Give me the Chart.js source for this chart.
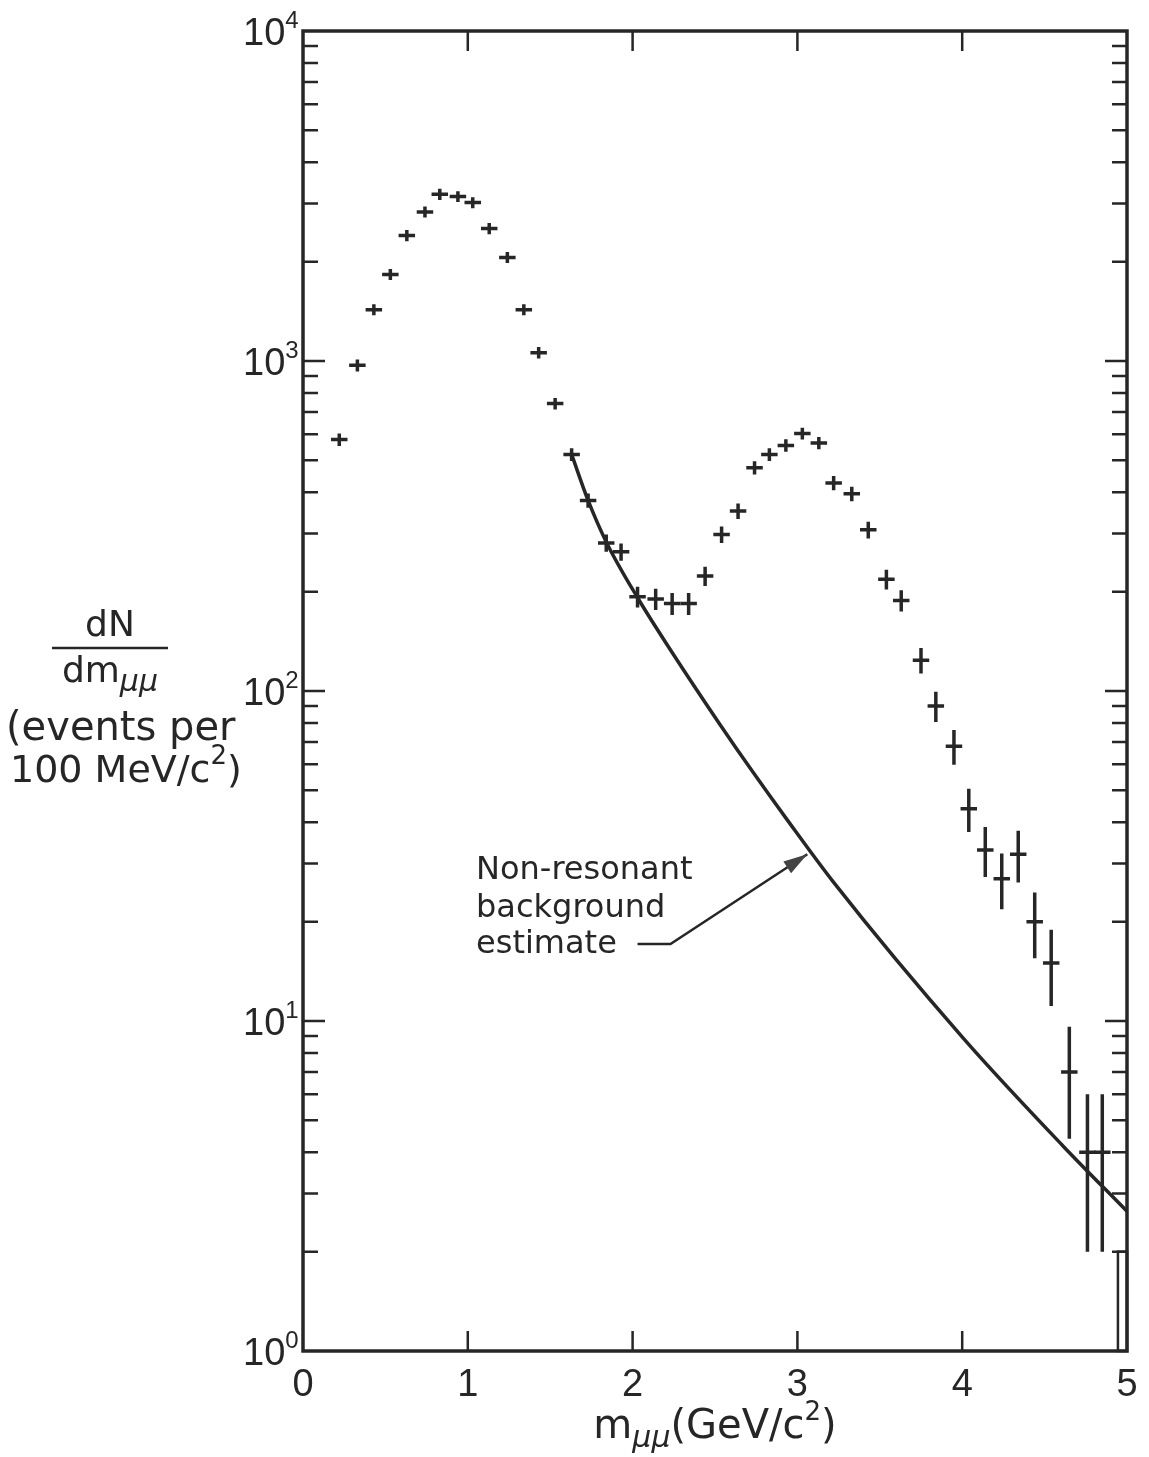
<!DOCTYPE html>
<html lang="en">
<head>
<meta charset="utf-8">
<title>Dimuon mass spectrum</title>
<script src="https://cdn.jsdelivr.net/npm/chart.js"></script>
<style>
  html, body { margin: 0; padding: 0; background: #fff; }
</style>
</head>
<body>
<canvas id="grafico" width="1149" height="1457"></canvas>

<script>
  // mass bins (GeV/c^2) and counts
  const massBins = [0.22, 0.33, 0.43, 0.53, 0.63, 0.74, 0.83, 0.94, 1.03, 1.13,
    1.24, 1.34, 1.43, 1.53, 1.63, 1.73, 1.84, 1.93, 2.03, 2.14,
    2.24, 2.34, 2.44, 2.54, 2.64, 2.74, 2.83, 2.93, 3.03, 3.13,
    3.22, 3.33, 3.43, 3.54, 3.63, 3.75, 3.84, 3.95, 4.04, 4.14,
    4.24, 4.34, 4.44, 4.54, 4.65, 4.76, 4.85];
  const eventCounts = [578, 970, 1430, 1830, 2400, 2830, 3200, 3150, 3020, 2520,
    2060, 1430, 1060, 743, 521, 378, 281, 264, 193, 190,
    184, 184, 223, 298, 351, 475, 521, 555, 603, 564,
    427, 396, 308, 218, 188, 124, 90, 68, 44, 33,
    27, 32, 20, 15, 7, 4, 4];
  const countErrors = [25, 40, 55, 70, 95, 110, 125, 120, 115, 100,
    80, 55, 42, 30, 23, 19, 17, 16, 14, 14,
    14, 14, 15, 17, 19, 22, 23, 24, 25, 24,
    21, 20, 18, 15, 14, 11, 9.5, 8.2, 6.6, 5.7,
    5.2, 5.7, 4.5, 3.9, 2.6, 2, 2];
  const binHalfWidth = 0.05;

  // non-resonant background estimate (solid curve)
  const bgMass = [1.63, 1.73, 1.84, 2.035, 2.235, 2.53, 2.73, 2.935, 3.22, 4.01, 4.61, 5.0];
  const bgCounts = [521, 378, 283, 190, 132, 79.2, 56.8, 40.9, 26.3, 8.83, 4.19, 2.65];

  // last bin, drawn as an open box
  const limitBin = [4.945, 5.0];
  const limitCount = [2];

  // axes
  const xTicks = [0, 1, 2, 3, 4, 5];
  const yDecades = [1, 10, 100, 1000, 10000];
  const yExponents = ['0', '1', '2', '3', '4'];

  const ink = '#262626';
  const wordFont = '"DejaVu Sans", "Liberation Sans", sans-serif';
  const digitFont = '"Liberation Sans", "DejaVu Sans", sans-serif';

  // pieces of text drawn one after another, each with its own size and shift
  function drawPieces(ctx, pieces, x, baseline, align) {
    let total = 0;
    pieces.forEach(function (p) {
      ctx.font = p.font;
      p.w = ctx.measureText(p.t).width;
      total += p.w;
    });
    let cx = align === 'center' ? x - total / 2 : x;
    ctx.textAlign = 'left';
    ctx.textBaseline = 'alphabetic';
    pieces.forEach(function (p) {
      ctx.font = p.font;
      ctx.fillText(p.t, cx, baseline + (p.dy || 0));
      cx += p.w;
    });
  }

  const desenho = {
    id: 'desenho',
    afterDatasetsDraw(chart) {
      const ctx = chart.ctx;
      const a = chart.chartArea;
      const x = chart.scales.x;
      const y = chart.scales.y;
      const meta = chart.getDatasetMeta(0);

      ctx.save();
      ctx.strokeStyle = ink;
      ctx.lineWidth = 3.5;

      // crosses: bin width horizontally, error vertically
      for (let i = 0; i < massBins.length; i++) {
        const pt = meta.data[i];
        const x0 = x.getPixelForValue(massBins[i] - binHalfWidth);
        const x1 = x.getPixelForValue(massBins[i] + binHalfWidth);
        const yTop = y.getPixelForValue(eventCounts[i] + countErrors[i]);
        const yBot = y.getPixelForValue(eventCounts[i] - countErrors[i]);
        ctx.beginPath();
        ctx.moveTo(x0, pt.y);
        ctx.lineTo(x1, pt.y);
        ctx.moveTo(pt.x, yTop);
        ctx.lineTo(pt.x, yBot);
        ctx.stroke();
      }

      // last open box
      ctx.lineWidth = 2.5;
      const bx0 = x.getPixelForValue(limitBin[0]);
      const bx1 = x.getPixelForValue(limitBin[1]);
      const by = y.getPixelForValue(limitCount[0]);
      ctx.strokeRect(bx0, by, bx1 - bx0, a.bottom - by);

      // annotation with arrow to the curve
      const tipX = x.getPixelForValue(3.06);
      const tipY = y.getPixelForValue(32);
      const l0x = x.getPixelForValue(2.03);
      const l1x = x.getPixelForValue(2.23);
      const lY = y.getPixelForValue(17.1);
      ctx.lineWidth = 2.5;
      ctx.beginPath();
      ctx.moveTo(l0x, lY);
      ctx.lineTo(l1x, lY);
      ctx.lineTo(tipX, tipY);
      ctx.stroke();
      const ang = Math.atan2(tipY - lY, tipX - l1x);
      ctx.fillStyle = '#444';
      ctx.beginPath();
      ctx.moveTo(tipX, tipY);
      ctx.lineTo(tipX - 24 * Math.cos(ang) + 7 * Math.sin(ang), tipY - 24 * Math.sin(ang) - 7 * Math.cos(ang));
      ctx.lineTo(tipX - 24 * Math.cos(ang) - 7 * Math.sin(ang), tipY - 24 * Math.sin(ang) + 7 * Math.cos(ang));
      ctx.closePath();
      ctx.fill();

      ctx.fillStyle = ink;
      ctx.font = '32px ' + wordFont;
      ctx.textAlign = 'left';
      ctx.textBaseline = 'alphabetic';
      const noteX = x.getPixelForValue(1.05);
      const noteY = y.getPixelForValue(26.9);
      ctx.fillText('Non-resonant', noteX, noteY);
      ctx.fillText('background', noteX, noteY + 38);
      ctx.fillText('estimate', noteX, noteY + 74);

      ctx.restore();
    },
    afterDraw(chart) {
      const ctx = chart.ctx;
      const a = chart.chartArea;
      const x = chart.scales.x;
      const y = chart.scales.y;

      ctx.save();
      ctx.strokeStyle = ink;
      ctx.fillStyle = ink;

      // frame
      ctx.lineWidth = 3.5;
      ctx.strokeRect(a.left, a.top, a.right - a.left, a.bottom - a.top);

      // inward ticks, x
      ctx.lineWidth = 2.5;
      ctx.beginPath();
      xTicks.slice(1, -1).forEach(function (v) {
        const px = x.getPixelForValue(v);
        ctx.moveTo(px, a.bottom);
        ctx.lineTo(px, a.bottom - 20);
        ctx.moveTo(px, a.top);
        ctx.lineTo(px, a.top + 20);
      });
      // inward ticks, y (decades and 2..9)
      yDecades.forEach(function (d, k) {
        if (k > 0 && k < yDecades.length - 1) {
          const py = y.getPixelForValue(d);
          ctx.moveTo(a.left, py);
          ctx.lineTo(a.left + 22, py);
          ctx.moveTo(a.right, py);
          ctx.lineTo(a.right - 22, py);
        }
        if (k < yDecades.length - 1) {
          for (let m = 2; m <= 9; m++) {
            const py = y.getPixelForValue(d * m);
            ctx.moveTo(a.left, py);
            ctx.lineTo(a.left + 15, py);
            ctx.moveTo(a.right, py);
            ctx.lineTo(a.right - 15, py);
          }
        }
      });
      ctx.stroke();

      // y labels 10^n
      yDecades.forEach(function (d, k) {
        const py = y.getPixelForValue(d);
        drawPieces(ctx, [
          { t: '10', font: '38px ' + digitFont },
          { t: yExponents[k], font: '24px ' + digitFont, dy: -17 }
        ], a.left - 60, py + 14, 'left');
      });

      // x title
      drawPieces(ctx, [
        { t: 'm', font: '40px ' + wordFont },
        { t: 'μμ', font: 'italic 30px ' + wordFont, dy: 9 },
        { t: '(GeV/c', font: '40px ' + wordFont },
        { t: '2', font: '26px ' + wordFont, dy: -18 },
        { t: ')', font: '40px ' + wordFont }
      ], (a.left + a.right) / 2, 1438, 'center');

      // y title
      drawPieces(ctx, [{ t: 'dN', font: '36px ' + wordFont }], 110, 636, 'center');
      ctx.lineWidth = 2.5;
      ctx.beginPath();
      ctx.moveTo(52, 648);
      ctx.lineTo(168, 648);
      ctx.stroke();
      drawPieces(ctx, [
        { t: 'dm', font: '36px ' + wordFont },
        { t: 'μμ', font: 'italic 30px ' + wordFont, dy: 9 }
      ], 110, 682, 'center');
      drawPieces(ctx, [{ t: '(events per', font: '40px ' + wordFont }], 6, 740, 'left');
      drawPieces(ctx, [
        { t: '100 MeV/c', font: '38px ' + wordFont },
        { t: '2', font: '26px ' + wordFont, dy: -18 },
        { t: ')', font: '38px ' + wordFont }
      ], 10, 782, 'left');

      ctx.restore();
    }
  };

  new Chart(document.getElementById('grafico'), {
    type: 'scatter',
    data: {
      datasets: [{
        label: 'data',
        data: massBins.map(function (m, i) { return { x: m, y: eventCounts[i] }; }),
        pointRadius: 0,
        showLine: false
      }, {
        label: 'Non-resonant background estimate',
        data: bgMass.map(function (m, i) { return { x: m, y: bgCounts[i] }; }),
        showLine: true,
        borderColor: ink,
        borderWidth: 3.5,
        pointRadius: 0,
        fill: false,
        cubicInterpolationMode: 'monotone'
      }]
    },
    options: {
      responsive: false,
      animation: false,
      layout: { padding: { top: 31, right: 22, left: 0, bottom: 0 } },
      plugins: { legend: { display: false }, tooltip: { enabled: false } },
      scales: {
        x: {
          type: 'linear',
          min: 0,
          max: 5,
          grid: { display: false },
          border: { display: false },
          afterBuildTicks: function (s) { s.ticks = xTicks.map(function (v) { return { value: v }; }); },
          ticks: { autoSkip: false, maxRotation: 0, padding: 4, color: ink, font: { family: digitFont, size: 38 } },
          afterFit: function (s) { s.height = 106; }
        },
        y: {
          type: 'logarithmic',
          min: 1,
          max: 10000,
          grid: { display: false },
          border: { display: false },
          ticks: { display: false },
          afterFit: function (s) { s.width = 303; }
        }
      }
    },
    plugins: [desenho]
  });
</script>
</body>
</html>
